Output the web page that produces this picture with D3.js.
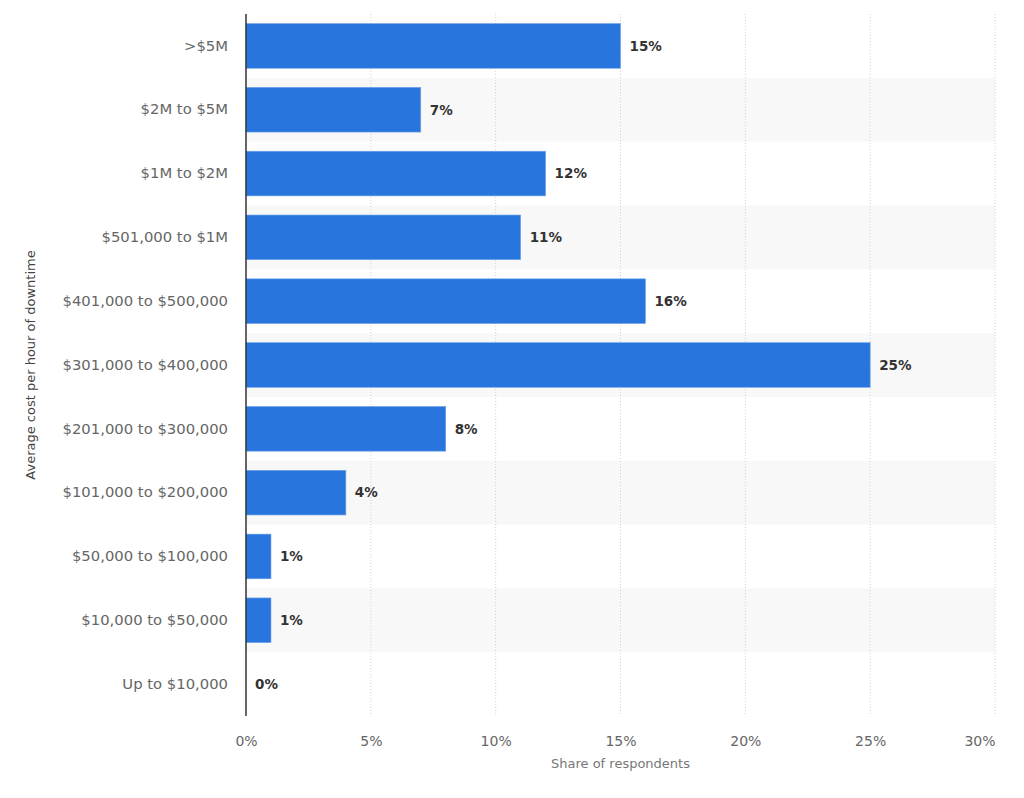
<!DOCTYPE html>
<html>
<head>
<meta charset="utf-8">
<script src="https://cdn.jsdelivr.net/npm/d3@7"></script>
<style>
  body { margin: 0; background: #fff; }
  text { font-family: "DejaVu Sans", sans-serif; }
</style>
</head>
<body>
<div id="chart"></div>
<script>
const categories = ['>$5M', '$2M to $5M', '$1M to $2M', '$501,000 to $1M', '$401,000 to $500,000',
    '$301,000 to $400,000', '$201,000 to $300,000', '$101,000 to $200,000', '$50,000 to $100,000',
    '$10,000 to $50,000', 'Up to $10,000'];
const shares = [15, 7, 12, 11, 16, 25, 8, 4, 1, 1, 0];
const xTicks = [0, 5, 10, 15, 20, 25, 30];

const width = 1024, height = 798;
const margin = { top: 14, right: 29, bottom: 82, left: 246 };
const innerW = width - margin.left - margin.right;
const innerH = height - margin.top - margin.bottom;

const svg = d3.select('#chart').append('svg')
    .attr('width', width)
    .attr('height', height);
const g = svg.append('g')
    .attr('transform', `translate(${margin.left},${margin.top})`);

const x = d3.scaleLinear().domain([0, 30]).range([0, innerW]);
const y = d3.scaleBand().domain(categories).range([0, innerH]).paddingInner(0.3).paddingOuter(0.15);
const band = d3.scaleBand().domain(categories).range([0, innerH]);

// alternating row stripes
g.selectAll('rect.stripe')
    .data(categories.filter((d, i) => i % 2 === 1)).enter()
    .append('rect')
    .attr('class', 'stripe')
    .attr('x', 0)
    .attr('y', d => band(d))
    .attr('width', innerW)
    .attr('height', band.bandwidth())
    .attr('fill', '#f8f8f8');

// grid lines
g.selectAll('line.grid')
    .data(xTicks.slice(1)).enter()
    .append('line')
    .attr('class', 'grid')
    .attr('x1', d => x(d)).attr('x2', d => x(d))
    .attr('y1', 0).attr('y2', innerH)
    .attr('stroke', '#d0d0d0')
    .attr('stroke-dasharray', '1,2');

// bars
g.selectAll('rect.bar')
    .data(shares).enter()
    .append('rect')
    .attr('class', 'bar')
    .attr('x', 0)
    .attr('y', (d, i) => y(categories[i]))
    .attr('width', d => x(d))
    .attr('height', y.bandwidth())
    .attr('fill', '#2876dd')
    .attr('stroke', d => d > 0 ? '#6fa3e9' : 'none')
    .attr('stroke-width', 0.6);

// value labels
g.selectAll('text.val')
    .data(shares).enter()
    .append('text')
    .attr('class', 'val')
    .attr('x', d => x(d) + 9)
    .attr('y', (d, i) => y(categories[i]) + y.bandwidth() / 2)
    .attr('dy', '0.36em')
    .attr('font-size', 13.5)
    .attr('font-weight', 'bold')
    .attr('fill', '#333')
    .text(d => d + '%');

// y axis
const yAxis = g.append('g')
    .call(d3.axisLeft(band).tickSize(0).tickPadding(18));
yAxis.select('.domain').remove();
yAxis.selectAll('text')
    .attr('font-size', 14.8)
    .attr('fill', '#666')
    .style('font-family', '"DejaVu Sans", sans-serif');

g.append('line')
    .attr('x1', 0).attr('x2', 0)
    .attr('y1', 0).attr('y2', innerH)
    .attr('stroke', '#333')
    .attr('stroke-width', 1.5);

// x axis
const xAxis = g.append('g')
    .attr('transform', `translate(0,${innerH})`)
    .call(d3.axisBottom(x).tickValues(xTicks).tickFormat(d => d + '%').tickSize(0).tickPadding(20));
xAxis.select('.domain').remove();
xAxis.selectAll('text')
    .attr('font-size', 14)
    .attr('fill', '#666')
    .style('font-family', '"DejaVu Sans", sans-serif');
// last tick label sits inside the plot edge
xAxis.selectAll('text').filter(d => d === 30)
    .attr('text-anchor', 'end');

// axis titles
g.append('text')
    .attr('x', innerW / 2)
    .attr('y', innerH + 52)
    .attr('text-anchor', 'middle')
    .attr('font-size', 13)
    .attr('fill', '#777')
    .text('Share of respondents');

g.append('text')
    .attr('transform', `translate(${30 - margin.left},${innerH / 2}) rotate(-90)`)
    .attr('text-anchor', 'middle')
    .attr('dy', '0.35em')
    .attr('font-size', 13)
    .attr('fill', '#444')
    .text('Average cost per hour of downtime');
</script>
</body>
</html>
